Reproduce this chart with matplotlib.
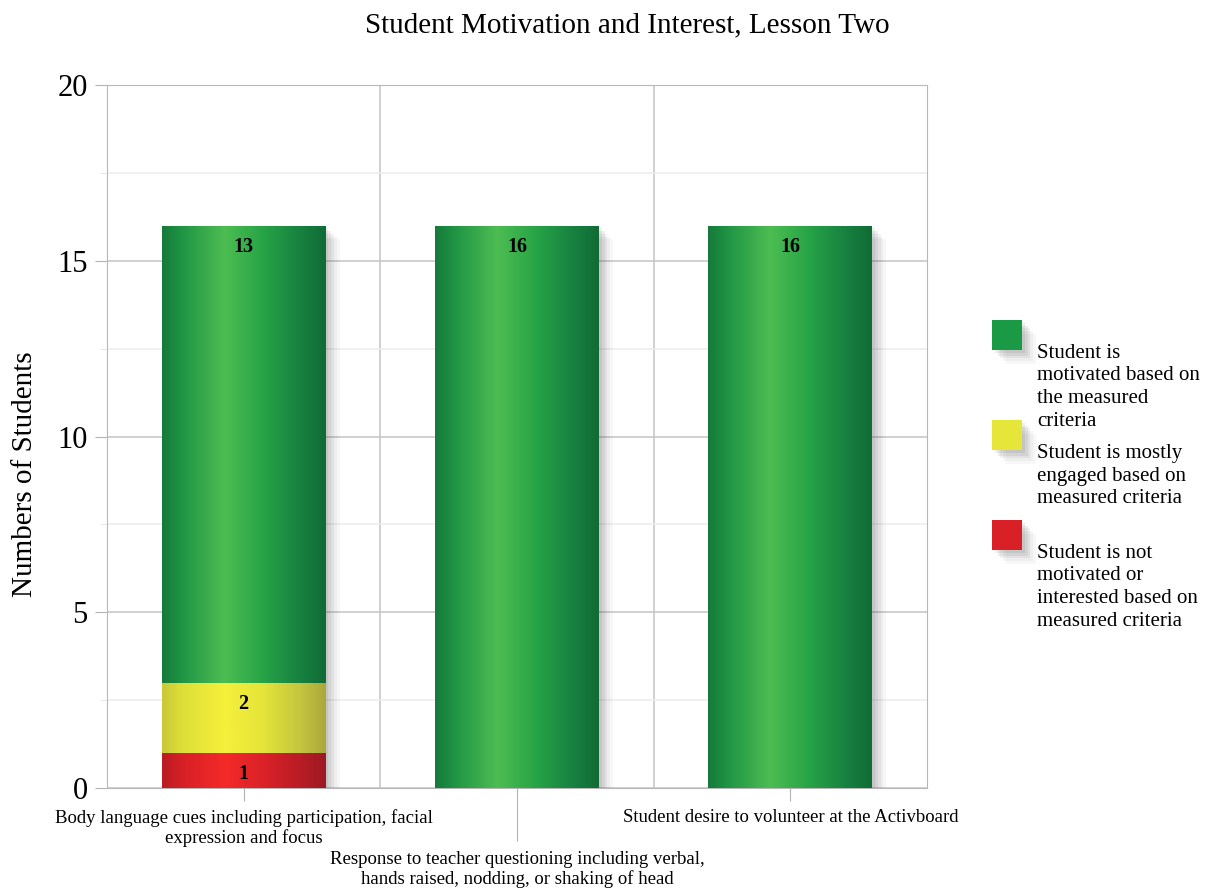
import numpy as np
import matplotlib
matplotlib.use('Agg')
import matplotlib.pyplot as plt
import matplotlib.patheffects as pe
from matplotlib.colors import LinearSegmentedColormap
from matplotlib.patches import Rectangle

# data
categories = [
    'Body language cues including participation, facial\nexpression and focus',
    'Response to teacher questioning including verbal,\nhands raised, nodding, or shaking of head',
    'Student desire to volunteer at the Activboard',
]
not_motivated = [1, 0, 0]
mostly_engaged = [2, 0, 0]
motivated = [13, 16, 16]
series_names = [
    'Student is\nmotivated based on\nthe measured\ncriteria',
    'Student is mostly\nengaged based on\nmeasured criteria',
    'Student is not\nmotivated or\ninterested based on\nmeasured criteria',
]
y_ticks = [0, 5, 10, 15, 20]
title = 'Student Motivation and Interest, Lesson Two'

plt.rcParams['font.family'] = ['Liberation Serif', 'DejaVu Serif']

# cylinder shading for each series (left edge -> right edge)
green_stops = [(0, '#167a3a'), (0.12, '#1f9444'), (0.38, '#4dbd52'), (0.62, '#26a347'), (0.85, '#178040'), (1, '#116b35')]
yellow_stops = [(0, '#c8c83a'), (0.12, '#dede38'), (0.38, '#f5f03a'), (0.62, '#e4e43a'), (0.85, '#c4c440'), (1, '#aaa83c')]
red_stops = [(0, '#b81c24'), (0.12, '#d62026'), (0.38, '#f42a28'), (0.62, '#da2228'), (0.85, '#b81c26'), (1, '#9c1a22')]
cmaps = [LinearSegmentedColormap.from_list(n, s) for n, s in
         [('red', red_stops), ('yellow', yellow_stops), ('green', green_stops)]]
solid = ['#d92027', '#e6e63a', '#1b9a45']


def shadow():
    fx = [pe.SimplePatchShadow(offset=(o, -o), shadow_rgbFace='#444444', alpha=a)
          for o, a in [(2, 0.09), (4, 0.09), (6, 0.07), (8, 0.05), (10, 0.04)]]
    return fx + [pe.Normal()]


fig = plt.figure(figsize=(12.05, 8.9), dpi=100)
ax = fig.add_axes([107 / 1205, 1 - 788 / 890, 820 / 1205, 703 / 890])

x = np.arange(len(categories))
grad = np.linspace(0, 1, 256).reshape(1, -1)
bottom = np.zeros(len(categories))
stack = [not_motivated, mostly_engaged, motivated]
for vals, cmap, col in zip(stack, cmaps, solid):
    vals = np.array(vals)
    bars = ax.bar(x, vals, 0.6, bottom=bottom, color=col, zorder=2, path_effects=shadow())
    for rect, v in zip(bars, vals):
        if v == 0:
            continue
        bx, by = rect.get_x(), rect.get_y()
        bw, bh = rect.get_width(), rect.get_height()
        im = ax.imshow(grad, cmap=cmap, extent=[bx, bx + bw, by, by + bh],
                       aspect='auto', interpolation='bicubic', zorder=3)
        im.set_clip_path(rect)
        ax.annotate(str(v), xy=(bx + bw / 2, by + bh), xytext=(0, -8),
                    textcoords='offset points', ha='center', va='top',
                    fontsize=14.5, fontweight='bold', zorder=4)
    bottom += vals

ax.set_xlim(-0.5, 2.5)
ax.set_ylim(0, 20)
ax.set_yticks(y_ticks)
ax.set_yticks(np.arange(2.5, 20, 5), minor=True)
ax.set_xticks(x)
ax.set_xticklabels([])
ax.set_xticks([0.5, 1.5], minor=True)
ax.set_axisbelow(True)
ax.grid(axis='y', which='major', color='#c4c4c4', lw=1.1)
ax.grid(axis='y', which='minor', color='#ececec', lw=1.1)
ax.grid(axis='x', which='minor', color='#c4c4c4', lw=1.1)
ax.tick_params(axis='y', which='major', length=9, color='#b4b4b4', labelsize=22, pad=5)
ax.tick_params(axis='y', which='minor', length=5, color='#e4e4e4')
ax.tick_params(axis='x', which='major', length=9, color='#b4b4b4')
ax.tick_params(axis='x', which='minor', length=0)
for s in ax.spines.values():
    s.set_color('#b8b8b8')
ax.xaxis.get_major_ticks()[1].tick1line.set_markersize(38)

# staggered category labels
offsets = [15, 45, 15]
for i, (lab, off) in enumerate(zip(categories, offsets)):
    ax.annotate(lab, xy=(i, 0), xycoords=('data', 'axes fraction'), xytext=(0, -off),
                textcoords='offset points', ha='center', va='top', fontsize=13.5,
                linespacing=1.2, annotation_clip=False)

ax.set_ylabel('Numbers of Students', fontsize=21)
ax.yaxis.set_label_coords(-0.084, 1 - (474 - 85) / 703)
fig.text(627 / 1205, 1 - 25 / 890, title, ha='center', va='center', fontsize=21)

# legend built by hand: square above, text hanging below
sq_tops = [320, 420, 520]
for name, col, top in zip(series_names, solid[::-1], sq_tops):
    fig.add_artist(Rectangle((992 / 1205, 1 - (top + 30) / 890), 30 / 1205, 30 / 890,
                             transform=fig.transFigure, facecolor=col, edgecolor='none',
                             path_effects=shadow()))
    fig.text(1037 / 1205, 1 - (top + 24) / 890, name, ha='left', va='top',
             fontsize=15, linespacing=1.25)

fig.savefig('out.png', dpi=100)
